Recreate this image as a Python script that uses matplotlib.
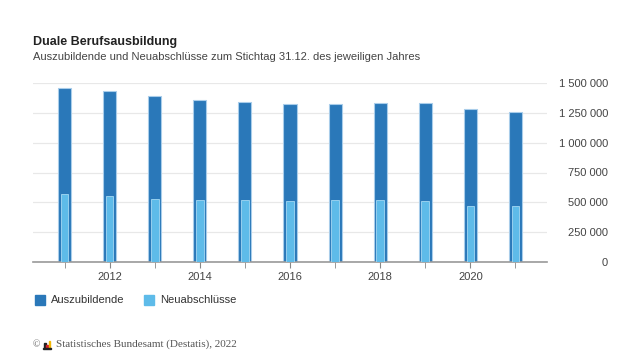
import matplotlib.pyplot as plt
from matplotlib.patches import Rectangle
from matplotlib.ticker import FuncFormatter

# Daten
jahre = [2011, 2012, 2013, 2014, 2015, 2016, 2017, 2018, 2019, 2020, 2021]
auszubildende = [1460658, 1429977, 1391886, 1358550, 1337004, 1321197,
                 1323894, 1330104, 1329366, 1286076, 1255264]
neuabschluesse = [565824, 549003, 525897, 518394, 516639, 509999,
                  515679, 521901, 513297, 465696, 466179]
y_ticks = [0, 250000, 500000, 750000, 1000000, 1250000, 1500000]
x_ticks = [2012, 2014, 2016, 2018, 2020]

plt.rcParams['font.family'] = ['Liberation Sans', 'DejaVu Sans']

dunkel = '#2a78b9'
hell = '#5ebbe9'

fig = plt.figure(figsize=(6.42, 3.61), dpi=100)
ax = fig.add_axes([33 / 642, 1 - 262 / 361, (547 - 33) / 642, (262 - 83) / 361])

ax.bar(jahre, auszubildende, width=0.29, color=dunkel, edgecolor='#a9cdea',
       linewidth=0.8, zorder=2)
ax.bar(jahre, neuabschluesse, width=0.17, color=hell, edgecolor='#a3d8f3',
       linewidth=0.6, zorder=3)

ax.set_xlim(2010.3, 2021.7)
ax.set_ylim(0, 1500000)
ax.set_yticks(y_ticks)
ax.yaxis.set_major_formatter(FuncFormatter(lambda v, p: f'{int(v):,}'.replace(',', ' ')))
ax.yaxis.tick_right()
ax.set_xticks(jahre, minor=True)
ax.set_xticks(x_ticks)
ax.tick_params(axis='x', which='both', length=4, color='#888888', labelsize=8,
               labelcolor='#444444', pad=3)
ax.tick_params(axis='y', length=0, labelsize=8, labelcolor='#444444', pad=44)
for lbl in ax.get_yticklabels():
    lbl.set_horizontalalignment('right')

ax.grid(axis='y', color='#e8e8e8', linewidth=0.9, zorder=0)
for s in ['top', 'right', 'left']:
    ax.spines[s].set_visible(False)
ax.spines['bottom'].set_color('#999999')
ax.spines['bottom'].set_linewidth(1.2)

# Titel
fig.text(33 / 642, 1 - 42 / 361, 'Duale Berufsausbildung', fontsize=9,
         fontweight='bold', color='#222222', va='center')
fig.text(33 / 642, 1 - 57 / 361,
         'Auszubildende und Neuabschlüsse zum Stichtag 31.12. des jeweiligen Jahres',
         fontsize=8, color='#444444', va='center')

# Legende
fig.patches.append(Rectangle((35 / 642, 1 - 305 / 361), 10 / 642, 10 / 361,
                             transform=fig.transFigure, color=dunkel))
fig.text(51 / 642, 1 - 300 / 361, 'Auszubildende', fontsize=8, color='#333333', va='center')
fig.patches.append(Rectangle((144 / 642, 1 - 305 / 361), 10 / 642, 10 / 361,
                             transform=fig.transFigure, color=hell))
fig.text(160 / 642, 1 - 300 / 361, 'Neuabschlüsse', fontsize=8, color='#333333', va='center')

# Quelle
fig.text(33 / 642, 1 - 345 / 361, '©', fontsize=7, color='#666666', va='center',
         family='Liberation Serif')
for i, (h, c) in enumerate([(5, '#222222'), (3, '#d2232a'), (7, '#f2b705')]):
    fig.patches.append(Rectangle(((44 + i * 2.3) / 642, 1 - 348 / 361), 1.8 / 642, h / 361,
                                 transform=fig.transFigure, color=c))
fig.patches.append(Rectangle((43.5 / 642, 1 - 348.6 / 361), 8 / 642, 0.7 / 361,
                             transform=fig.transFigure, color='#222222'))
fig.text(56 / 642, 1 - 344 / 361, 'Statistisches Bundesamt (Destatis), 2022',
         fontsize=8, color='#555555', va='center', family='Liberation Serif')

fig.savefig('out.png', dpi=100)
